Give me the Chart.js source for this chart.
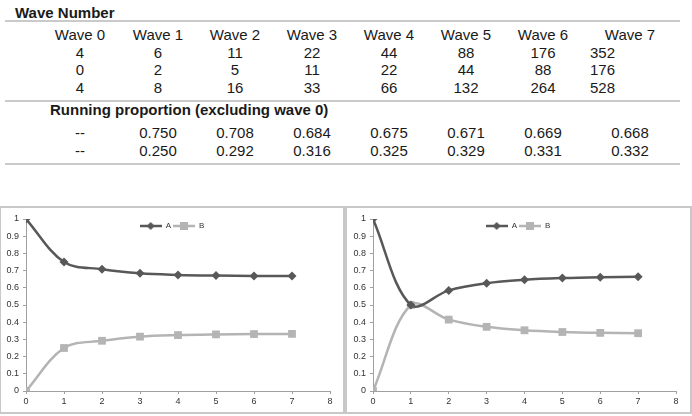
<!DOCTYPE html>
<html>
<head>
<meta charset="utf-8">
<script src="https://cdn.jsdelivr.net/npm/chart.js@4/dist/chart.umd.min.js"></script>
<style>
  body { margin: 0; width: 692px; height: 416px; position: relative; background: #fff;
         font-family: "Liberation Sans", Arial, sans-serif; color: #1a1a1a; overflow: hidden; }
  .t { position: absolute; font-size: 15px; line-height: 18px; white-space: nowrap; }
  .c { transform: translateX(-50%); }
  .b { font-weight: bold; }
  .rule { position: absolute; left: 5px; width: 675px; height: 2px; background: #cacaca; }
  .box { position: absolute; top: 206px; height: 208px; box-sizing: border-box; border: 2px solid #c8c8c8; }
  canvas { position: absolute; top: 207px; }
</style>
</head>
<body>
<div id="table"></div>
<div class="box" style="left:-1px;width:346px"></div>
<div class="box" style="left:345px;width:347px"></div>
<canvas id="chartLeft" width="344" height="207" style="left:0"></canvas>
<canvas id="chartRight" width="344" height="207" style="left:346px"></canvas>
<script>
// table data
const waveLabels = ["Wave 0", "Wave 1", "Wave 2", "Wave 3", "Wave 4", "Wave 5", "Wave 6", "Wave 7"];
const countA = [4, 6, 11, 22, 44, 88, 176, 352];
const countB = [0, 2, 5, 11, 22, 44, 88, 176];
const countTotal = [4, 8, 16, 33, 66, 132, 264, 528];
const runningA = ["--", "0.750", "0.708", "0.684", "0.675", "0.671", "0.669", "0.668"];
const runningB = ["--", "0.250", "0.292", "0.316", "0.325", "0.329", "0.331", "0.332"];

// chart data
const waves = [0, 1, 2, 3, 4, 5, 6, 7];
const leftA = [1, 0.75, 0.708, 0.684, 0.675, 0.671, 0.669, 0.668];
const leftB = [0, 0.25, 0.292, 0.316, 0.325, 0.329, 0.331, 0.332];
const rightA = [1, 0.5, 0.585, 0.627, 0.647, 0.657, 0.662, 0.664];
const rightB = [0, 0.5, 0.415, 0.373, 0.353, 0.343, 0.338, 0.336];

const colA = "#585858";
const colB = "#b4b4b4";

// build the table as positioned text
const table = document.getElementById("table");
const colX = [80, 158, 235, 312, 389, 466, 543, 630];

function addText(txt, x, cy, cls) {
  const s = document.createElement("span");
  s.className = "t " + (cls || "");
  s.textContent = txt;
  s.style.left = x + "px";
  s.style.top = (cy - 9) + "px";
  table.appendChild(s);
}
function addRule(y) {
  const d = document.createElement("div");
  d.className = "rule";
  d.style.top = (y - 1) + "px";
  table.appendChild(d);
}

addText("Wave Number", 15, 12.5, "b");
addRule(21);
waveLabels.forEach((w, i) => addText(w, colX[i], 35, "c"));
[countA, countB, countTotal].forEach((row, r) => {
  const cy = [52.5, 70, 87.5][r];
  row.forEach((v, i) => {
    if (i === 7) addText(String(v), 590, cy);
    else addText(String(v), colX[i], cy, "c");
  });
});
addRule(101);
addText("Running proportion (excluding wave 0)", 50, 110, "b");
runningA.forEach((v, i) => addText(v, colX[i], 133, "c"));
runningB.forEach((v, i) => addText(v, colX[i], 150.5, "c"));
addRule(164);

// legend swatch: line with marker
function legendSwatch(color, style) {
  const c = document.createElement("canvas");
  c.width = 22; c.height = 10;
  const g = c.getContext("2d");
  g.strokeStyle = color; g.fillStyle = color; g.lineWidth = 2.5;
  g.beginPath(); g.moveTo(0, 5); g.lineTo(22, 5); g.stroke();
  g.beginPath();
  if (style === "diamond") {
    g.moveTo(11, 1); g.lineTo(15, 5); g.lineTo(11, 9); g.lineTo(7, 5);
  } else {
    g.rect(7, 1, 8, 8);
  }
  g.fill();
  return c;
}
const swatches = [legendSwatch(colA, "diamond"), legendSwatch(colB, "square")];

// move the legend down/right so it sits inside the plot like the Excel one
const legendShift = {
  id: "legendShift",
  afterLayout(chart) {
    chart.legend.top += 21;
    chart.legend.bottom += 21;
    chart.legend.left += 7;
    chart.legend.right += 7;
  }
};

const tickFont = { family: "Liberation Sans", size: 9 };

function makeChart(id, a, b, yWidth) {
  return new Chart(document.getElementById(id), {
    type: "line",
    data: {
      datasets: [
        {
          label: "A",
          data: waves.map((x, i) => ({ x, y: a[i] })),
          borderColor: colA, backgroundColor: colA,
          pointStyle: "rectRot", pointRadius: 4.5, pointBorderWidth: 0,
          borderWidth: 2.5, tension: 0.35
        },
        {
          label: "B",
          data: waves.map((x, i) => ({ x, y: b[i] })),
          borderColor: colB, backgroundColor: colB,
          pointStyle: "rect", pointRadius: 5.5, pointBorderWidth: 0,
          borderWidth: 2.5, tension: 0.35
        }
      ]
    },
    plugins: [legendShift],
    options: {
      responsive: false,
      animation: false,
      devicePixelRatio: 1,
      layout: { padding: { top: -8, right: 14, bottom: 3, left: 0 } },
      plugins: {
        tooltip: { enabled: false },
        legend: {
          position: "top",
          align: "center",
          labels: {
            usePointStyle: true,
            pointStyleWidth: 22,
            boxHeight: 8,
            padding: 2,
            color: "#333",
            font: { family: "Liberation Sans", size: 8 },
            generateLabels: chart => Chart.defaults.plugins.legend.labels.generateLabels(chart)
              .map((item, i) => Object.assign(item, { pointStyle: swatches[i] }))
          }
        }
      },
      scales: {
        x: {
          type: "linear", min: 0, max: 8,
          ticks: { stepSize: 1, font: tickFont, color: "#333", padding: 2 },
          grid: { drawOnChartArea: false, drawTicks: true, tickLength: 3, color: "#a0a0a0" },
          border: { color: "#a0a0a0" },
          afterFit: s => { s.height = 20; }
        },
        y: {
          min: 0, max: 1,
          ticks: {
            stepSize: 0.1, font: tickFont, color: "#333", padding: 4,
            callback: v => String(Math.round(v * 10) / 10)
          },
          grid: { drawOnChartArea: false, drawTicks: true, tickLength: 3, color: "#a0a0a0" },
          border: { color: "#a0a0a0" },
          afterFit: s => { s.width = yWidth; }
        }
      }
    }
  });
}

makeChart("chartLeft", leftA, leftB, 26);
makeChart("chartRight", rightA, rightB, 27);
</script>
</body>
</html>
